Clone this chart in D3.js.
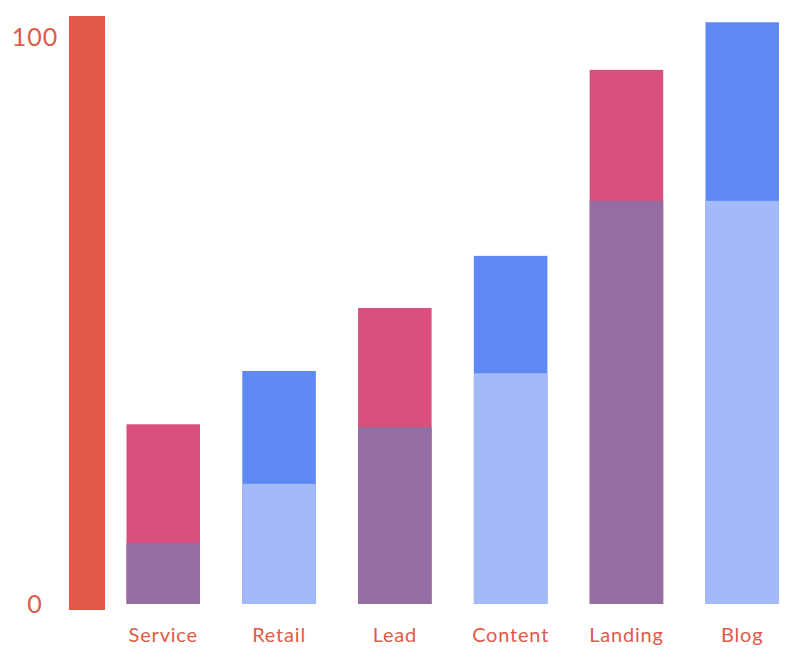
<!DOCTYPE html>
<html><head><meta charset="utf-8">
<script src="https://cdn.jsdelivr.net/npm/d3@7"></script>
<style>body{margin:0;background:#fff;} text{font-family:"Lato","Open Sans",sans-serif;}</style>
</head><body>
<svg id="c" width="800" height="665"></svg>
<script>
const categories = ["Service","Retail","Lead","Content","Landing","Blog"];
const totals = [31.7, 41.1, 52.2, 61.4, 94.2, 102.6];
const inner = [10.8, 21.2, 31.2, 40.7, 71.1, 71.1];
const outerColors = ["#D94F7C","#5E89F4","#D94F7C","#5E89F4","#D94F7C","#5E89F4"];
const innerColors = ["#946DA3","#A3B9F8","#946DA3","#A3B9F8","#946DA3","#A3B9F8"];
const yTicks = [0, 100];

const svg = d3.select("#c");
const y = d3.scaleLinear().domain([0,100]).range([604,37]);
const x = d3.scaleBand().domain(categories).range([126.5,779]).paddingInner(0.365).paddingOuter(0);

// axis bar
svg.append("rect").attr("x",69).attr("width",36).attr("y",y(103.7)).attr("height",y(-1.06)-y(103.7)).attr("fill","#E05A47");

svg.selectAll("text.tick").data(yTicks).enter().append("text")
  .attr("class","tick").attr("x",35).attr("y",d=>y(d)).attr("dy","0.35em")
  .attr("text-anchor","middle").attr("fill","#E05A47").attr("font-size",25).attr("letter-spacing",1).text(d=>d);

svg.selectAll("rect.outer").data(categories).enter().append("rect")
  .attr("class","outer").attr("x",d=>x(d)).attr("width",x.bandwidth())
  .attr("y",(d,i)=>y(totals[i])).attr("height",(d,i)=>y(0)-y(totals[i]))
  .attr("fill",(d,i)=>outerColors[i]);

svg.selectAll("rect.inner").data(categories).enter().append("rect")
  .attr("class","inner").attr("x",d=>x(d)).attr("width",x.bandwidth())
  .attr("y",(d,i)=>y(inner[i])).attr("height",(d,i)=>y(0)-y(inner[i]))
  .attr("fill",(d,i)=>innerColors[i]);

svg.selectAll("text.lab").data(categories).enter().append("text")
  .attr("class","lab").attr("x",d=>x(d)+x.bandwidth()/2).attr("y",635).attr("dy","0.35em")
  .attr("text-anchor","middle").attr("fill","#E05A47").attr("font-size",20).attr("letter-spacing",0.8).text(d=>d);
</script>
</body></html>
